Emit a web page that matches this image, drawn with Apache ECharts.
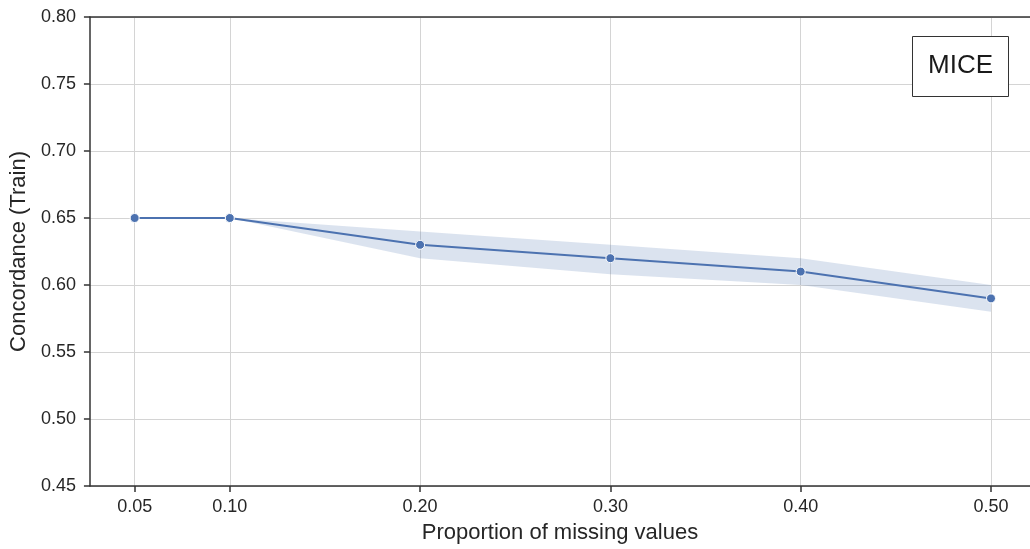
<!DOCTYPE html>
<html>
<head>
<meta charset="utf-8">
<script src="https://cdn.jsdelivr.net/npm/echarts@6/dist/echarts.min.js"></script>
<style>
  html, body { margin: 0; padding: 0; background: #fff; }
  #chart { width: 1030px; height: 549px; }
</style>
</head>
<body>
<div id="chart"></div>
<script>
// proportion of missing values
let xValues = [0.05, 0.10, 0.20, 0.30, 0.40, 0.50];
// mean concordance (train)
let meanValues = [0.65, 0.65, 0.63, 0.62, 0.61, 0.59];
// confidence band
let lowerValues = [0.65, 0.65, 0.62, 0.608, 0.60, 0.58];
let upperValues = [0.65, 0.65, 0.64, 0.63, 0.62, 0.60];
let xTickValues = [0.05, 0.10, 0.20, 0.30, 0.40, 0.50];

let FONT = "'Liberation Sans', Arial, sans-serif";
let BLUE = '#4c72b0';
let X_MIN = 0.0265, X_MAX = 0.5205;

let bandData = xValues.map(function (x, i) { return [x, lowerValues[i], upperValues[i]]; });
let meanData = xValues.map(function (x, i) { return [x, meanValues[i]]; });

// whole band drawn once as one polygon (upper edge then lower edge back)
function renderBand(params, api) {
  if (params.dataIndex !== 0) return null;
  let pts = [];
  for (let i = 0; i < xValues.length; i++) {
    pts.push(api.coord([xValues[i], upperValues[i]]));
  }
  for (let i = xValues.length - 1; i >= 0; i--) {
    pts.push(api.coord([xValues[i], lowerValues[i]]));
  }
  return {
    type: 'polygon',
    shape: {points: pts},
    style: {fill: BLUE, opacity: 0.2},
    silent: true
  };
}

let option = {
  animation: false,
  backgroundColor: '#fff',
  textStyle: {fontFamily: FONT},
  title: {
    text: 'MICE',
    left: 912,
    top: 36,
    padding: [17, 16, 18, 16],
    borderColor: '#333',
    borderWidth: 1,
    backgroundColor: '#fff',
    textStyle: {fontFamily: FONT, fontSize: 26, fontWeight: 'normal', color: '#1a1a1a'}
  },
  grid: {
    left: 89,
    right: 0,
    top: 17,
    bottom: 62,
    containLabel: false
  },
  xAxis: [
    {
      type: 'value',
      min: X_MIN,
      max: X_MAX,
      name: 'Proportion of missing values',
      nameLocation: 'middle',
      nameGap: 36,
      nameTextStyle: {fontFamily: FONT, fontSize: 22, color: '#262626'},
      axisLine: {show: true, onZero: false, lineStyle: {color: '#333', width: 1.5}},
      axisTick: {show: true, length: 6, lineStyle: {color: '#333', width: 1.5}, customValues: xTickValues},
      axisLabel: {
        fontFamily: FONT, fontSize: 18, color: '#262626', margin: 12,
        customValues: xTickValues,
        formatter: function (v) { return v.toFixed(2); }
      },
      splitLine: {show: true, lineStyle: {color: '#d4d4d4', width: 1}}
    },
    {
      // top spine only
      type: 'value',
      position: 'top',
      min: X_MIN,
      max: X_MAX,
      axisLine: {show: true, onZero: false, lineStyle: {color: '#333', width: 1.5}},
      axisTick: {show: false},
      axisLabel: {show: false},
      splitLine: {show: false}
    }
  ],
  yAxis: {
    type: 'value',
    min: 0.45,
    max: 0.80,
    interval: 0.05,
    name: 'Concordance (Train)',
    nameLocation: 'middle',
    nameGap: 58,
    nameTextStyle: {fontFamily: FONT, fontSize: 22, color: '#262626'},
    axisLine: {show: true, lineStyle: {color: '#333', width: 1.5}},
    axisTick: {show: true, length: 6, lineStyle: {color: '#333', width: 1.5}},
    axisLabel: {
      fontFamily: FONT, fontSize: 18, color: '#262626', margin: 14,
      formatter: function (v) { return v.toFixed(2); }
    },
    splitLine: {show: true, lineStyle: {color: '#d4d4d4', width: 1}}
  },
  series: [
    {
      name: 'band',
      type: 'custom',
      renderItem: renderBand,
      data: bandData,
      encode: {x: 0, y: [1, 2]},
      silent: true,
      z: 1
    },
    {
      name: 'MICE',
      type: 'line',
      data: meanData,
      symbol: 'circle',
      symbolSize: 9,
      itemStyle: {color: BLUE, borderColor: '#fff', borderWidth: 1},
      lineStyle: {color: BLUE, width: 2},
      z: 5
    }
  ]
};

let myChart = echarts.init(document.getElementById('chart'));
myChart.setOption(option);
</script>
</body>
</html>
